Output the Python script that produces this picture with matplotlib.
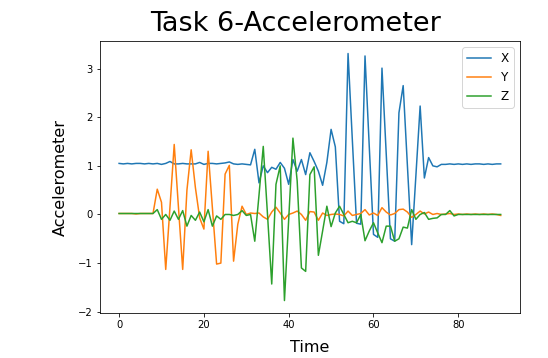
import numpy as np
import matplotlib.pyplot as plt

# accelerometer readings, one sample per time step (0..90)
acc_x = [1.05, 1.04, 1.05, 1.04, 1.05, 1.05, 1.04, 1.05, 1.04, 1.05,
         1.03, 1.05, 1.09, 1.04, 1.04, 1.05, 1.04, 1.04, 1.04, 1.07,
         1.03, 1.05, 1.05, 1.04, 1.05, 1.06, 1.08, 1.04, 1.03, 1.04,
         1.03, 1.02, 1.34, 0.65, 1.00, 0.86, 0.97, 0.93, 1.07, 0.95,
         0.62, 1.13, 0.89, 1.13, 0.82, 1.27, 1.09, 0.89, 0.60, 1.07,
         1.75, 1.39, -0.14, -0.19, 3.31, 1.55, -0.18, -0.20, 3.26, 1.40,
         -0.41, -0.47, 3.01, 1.25, -0.50, -0.55, 2.09, 2.65, 1.00, -0.62,
         0.80, 2.23, 0.75, 1.17, 1.00, 0.98, 1.03, 1.03, 1.04, 1.03,
         1.04, 1.03, 1.04, 1.03, 1.04, 1.04, 1.03, 1.04, 1.03, 1.04, 1.04]

acc_y = [0.02, 0.02, 0.02, 0.02, 0.01, 0.02, 0.02, 0.02, 0.02, 0.52,
         0.25, -1.13, 0.15, 1.44, 0.15, -1.13, 0.50, 1.33, 0.55, -0.07,
         -0.30, 1.30, 0.14, -1.02, -1.00, 0.83, 1.01, -0.96, -0.20, 0.17,
         0.00, 0.03, 0.02, 0.03, -0.05, -0.10, 0.05, 0.15, 0.03, -0.10,
         0.00, 0.03, 0.07, 0.00, -0.12, 0.06, 0.05, -0.12, 0.03, -0.02,
         0.00, 0.01, 0.00, -0.03, 0.07, -0.02, 0.00, 0.02, 0.10, -0.01,
         0.03, -0.02, 0.14, 0.05, -0.01, 0.02, 0.10, 0.11, 0.05, -0.06,
         0.00, 0.07, 0.01, 0.05, 0.00, 0.02, 0.00, 0.01, 0.02, 0.00,
         0.01, 0.00, 0.01, 0.00, 0.01, 0.00, 0.01, 0.00, 0.01, 0.00, -0.02]

acc_z = [0.02, 0.02, 0.02, 0.02, 0.02, 0.02, 0.02, 0.02, 0.02, 0.10,
         -0.10, 0.00, -0.12, 0.07, -0.10, 0.08, -0.24, -0.02, -0.12, 0.05,
         -0.15, 0.10, -0.24, -0.03, -0.10, 0.00, 0.00, -0.02, 0.00, 0.08,
         -0.02, 0.00, -0.55, 0.40, 1.40, 0.00, -1.43, 0.62, 1.00, -1.77,
         -0.10, 1.57, 0.69, -1.10, -1.17, 0.82, 0.98, -0.84, -0.34, 0.17,
         -0.25, 0.03, 0.17, 0.00, -0.17, -0.14, -0.17, 0.00, -0.54, -0.34,
         -0.17, -0.38, -0.58, -0.24, -0.24, -0.55, -0.50, -0.26, -0.28, 0.10,
         -0.10, 0.00, 0.04, -0.10, -0.08, -0.07, 0.00, 0.00, 0.08, -0.03,
         0.00, 0.00, 0.00, 0.00, 0.00, 0.00, 0.00, 0.00, 0.00, 0.00, 0.00]

t = np.arange(len(acc_x))

fig = plt.figure(figsize=(548/72, 358/72), dpi=72)
ax = fig.add_axes([0.1825, 0.126, 0.766, 0.759])

ax.plot(t, acc_x, label="X")
ax.plot(t, acc_y, label="Y")
ax.plot(t, acc_z, label="Z")

fig.suptitle("Task 6-Accelerometer", fontsize=27, x=0.54, y=0.97)
ax.set_xlabel("Time", fontsize=16, labelpad=10)
ax.set_ylabel("Accelerometer", fontsize=16, labelpad=10)
ax.legend(loc="upper right", fontsize=12)

fig.savefig("out.png", dpi=72)
